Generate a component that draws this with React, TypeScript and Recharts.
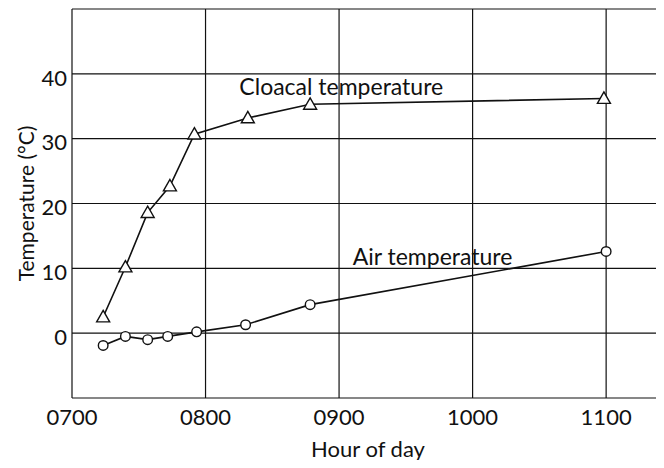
import React from "react";
import {
  LineChart,
  Line,
  XAxis,
  YAxis,
  CartesianGrid,
  ReferenceDot,
} from "recharts";

// times are minutes after midnight, values in degrees C
const cloacalTimes = [434, 444, 454, 464, 475, 499, 527, 659];
const cloacalTemps = [2.5, 10.2, 18.6, 22.7, 30.7, 33.2, 35.3, 36.2];

const airTimes = [434, 444, 454, 463, 476, 498, 527, 660];
const airTemps = [-1.9, -0.5, -1.0, -0.5, 0.2, 1.3, 4.4, 12.6];

const hourTicks = [420, 480, 540, 600, 660];
const tempTicks = [-10, 0, 10, 20, 30, 40, 50];

const cloacal = cloacalTimes.map((t, i) => ({ t, v: cloacalTemps[i] }));
const air = airTimes.map((t, i) => ({ t, v: airTemps[i] }));

const font = "Lato, 'Open Sans', sans-serif";
const ink = "#111";

const fmtHour = (m: number) => String(m / 60).padStart(2, "0") + "00";

const Triangle = (props: any) => {
  const { cx, cy } = props;
  if (cx == null || cy == null) return null;
  const s = 6.5;
  return (
    <path
      d={`M${cx},${cy - s} L${cx + s},${cy + s * 0.75} L${cx - s},${cy + s * 0.75} Z`}
      fill="#fff"
      stroke={ink}
      strokeWidth={1.4}
    />
  );
};

const Circle = (props: any) => {
  const { cx, cy } = props;
  if (cx == null || cy == null) return null;
  return <circle cx={cx} cy={cy} r={4.8} fill="#fff" stroke={ink} strokeWidth={1.4} />;
};

export default function App() {
  return (
    <div style={{ margin: -8, width: 664, height: 468, background: "#fff" }}>
      <LineChart
        width={664}
        height={468}
        margin={{ top: 9, right: 0, left: 0, bottom: 10 }}
      >
        <CartesianGrid stroke={ink} strokeWidth={1.2} />
        <XAxis
          type="number"
          dataKey="t"
          domain={[420, 686]}
          ticks={hourTicks}
          tickFormatter={fmtHour}
          allowDataOverflow
          axisLine={false}
          tickLine={false}
          tickSize={0}
          tickMargin={11}
          height={60}
          tick={{ fill: ink, fontSize: 22, fontFamily: font }}
          label={{
            value: "Hour of day",
            position: "insideBottom",
            offset: 1,
            fill: ink,
            fontSize: 22,
            fontFamily: font,
          }}
        />
        <YAxis
          type="number"
          dataKey="v"
          domain={[-10, 50]}
          ticks={tempTicks}
          tickFormatter={(v: number) => (v === -10 || v === 50 ? "" : String(v))}
          axisLine={false}
          tickLine={false}
          tickSize={0}
          tickMargin={5}
          width={72}
          tick={{ fill: ink, fontSize: 22, fontFamily: font, dy: 4 }}
          label={{
            value: "Temperature (°C)",
            angle: -90,
            position: "insideLeft",
            offset: 27,
            style: { textAnchor: "middle" },
            fill: ink,
            fontSize: 21,
            fontFamily: font,
          }}
        />
        <Line
          data={cloacal}
          dataKey="v"
          type="linear"
          stroke={ink}
          strokeWidth={1.6}
          dot={<Triangle />}
          activeDot={false}
          isAnimationActive={false}
        />
        <Line
          data={air}
          dataKey="v"
          type="linear"
          stroke={ink}
          strokeWidth={1.6}
          dot={<Circle />}
          activeDot={false}
          isAnimationActive={false}
        />
        <ReferenceDot
          x={541}
          y={38}
          r={0}
          label={{
            value: "Cloacal temperature",
            position: "center",
            fill: ink,
            fontSize: 23,
            fontFamily: font,
          }}
        />
        <ReferenceDot
          x={582}
          y={11.8}
          r={0}
          label={{
            value: "Air temperature",
            position: "center",
            fill: ink,
            fontSize: 23,
            fontFamily: font,
          }}
        />
      </LineChart>
    </div>
  );
}
